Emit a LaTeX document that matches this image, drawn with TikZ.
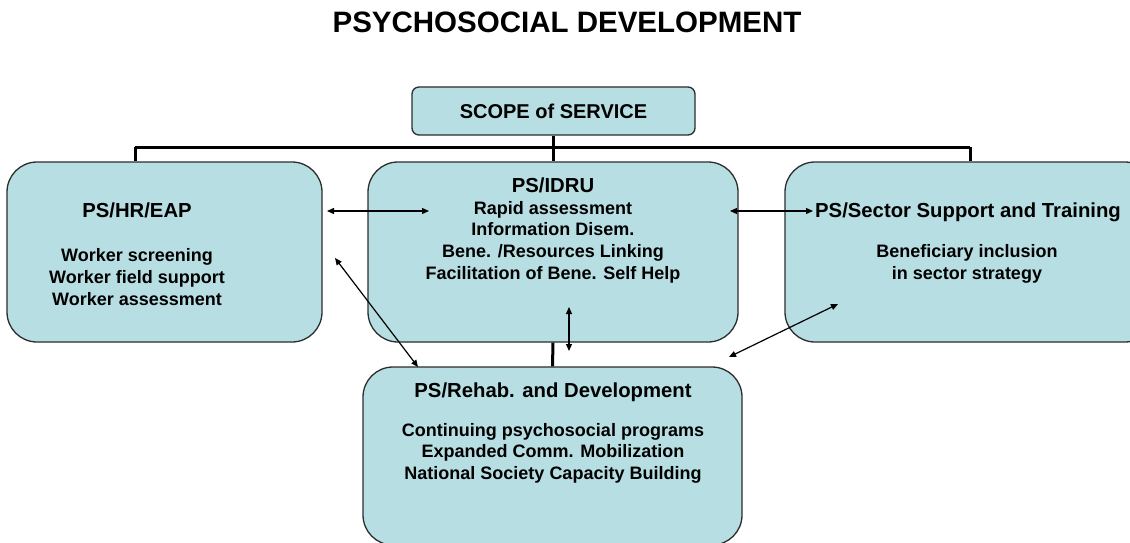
\documentclass[tikz,border=0pt]{standalone}
\usepackage{fontspec}
\setmainfont{Liberation Sans}
\usetikzlibrary{arrows.meta}
\definecolor{boxfill}{RGB}{183,222,227}
\definecolor{boxline}{RGB}{45,45,45}
\tikzset{
  bigbox/.style={draw=boxline, line width=1.3pt, fill=boxfill, rounded corners=30pt, inner sep=0pt},
  scopebox/.style={draw=boxline, line width=1.3pt, fill=boxfill, rounded corners=7pt, inner sep=0pt,
     minimum width=283pt, minimum height=48pt, font=\bfseries\fontsize{20}{24}\selectfont},
  head/.style={font=\bfseries\fontsize{20.3}{24}\selectfont, inner sep=0pt, align=center},
  body/.style={font=\bfseries\fontsize{18}{21.6}\selectfont, inner sep=0pt, align=center},
  tree/.style={line width=3pt, black},
  link/.style={line width=1.2pt, black, {Triangle[length=7pt,width=6pt]}-{Triangle[length=7pt,width=6pt]}}
}
\begin{document}
\begin{tikzpicture}[x=1pt,y=-1pt]
\useasboundingbox (0,0) rectangle (1130,543);
\clip (0,0) rectangle (1130,543);
\fill[white] (0,0) rectangle (1130,543);

\node[font=\bfseries\fontsize{29.5}{34}\selectfont, inner sep=0pt] (title) at (567,22) {PSYCHOSOCIAL DEVELOPMENT};

\coordinate (barL) at (135,147);
\coordinate (barR) at (970,147);
\coordinate (barM) at (553.5,147);

\node[scopebox] (scope) at (553.5,111) {SCOPE of SERVICE};

\node[bigbox, minimum width=315pt, minimum height=180pt] (hr) at (164.5,252) {};
\node[bigbox, minimum width=370pt, minimum height=180pt] (idru) at (553,252) {};
\node[bigbox, minimum width=370pt, minimum height=180pt] (sector) at (970,252) {};
\node[bigbox, minimum width=379pt, minimum height=178pt] (rehab) at (552.5,456) {};

\draw[tree] (scope.south) -- (barM);
\draw[tree] (barL) -- (barR);
\draw[tree] (barL) -- (barL |- hr.north);
\draw[tree] (barM) -- (barM |- idru.north);
\draw[tree] (barR) -- (barR |- sector.north);
\draw[tree] (idru.south) -- (rehab.north);

\node[head] (hrh) at (137,210) {PS/HR/EAP};
\node[body] (hrb) at (137,277) {Worker screening\\Worker field support\\Worker assessment};

\node[head] (idruh) at (553,185) {PS/IDRU};
\node[body] (idrub) at (553,242) {Rapid assessment\\Information Disem.\\Bene. /Resources Linking\\Facilitation of Bene. Self Help};

\node[head] (sech) at (968,212) {PS/Sector Support and Training};
\node[body] (secb) at (967,264) {Beneficiary inclusion\\in sector strategy};

\node[head] (rehh) at (553,392) {PS/Rehab. and Development};
\node[body] (rehb) at (553,453) {Continuing psychosocial programs\\Expanded Comm. Mobilization\\National Society Capacity Building};

\coordinate (a1s) at (327,211);
\coordinate (a1e) at (429,211);
\coordinate (a2s) at (730,211);
\coordinate (a2e) at (813,211);
\coordinate (a3s) at (335,258);
\coordinate (a3e) at (418,367);
\coordinate (a4s) at (569,307);
\coordinate (a4e) at (569,351);
\coordinate (a5s) at (838,304);
\coordinate (a5e) at (729,357);
\draw[link] (a1s) -- (a1e);
\draw[link] (a2s) -- (a2e);
\draw[link] (a3s) -- (a3e);
\draw[link] (a4s) -- (a4e);
\draw[link] (a5s) -- (a5e);
\end{tikzpicture}
\end{document}
